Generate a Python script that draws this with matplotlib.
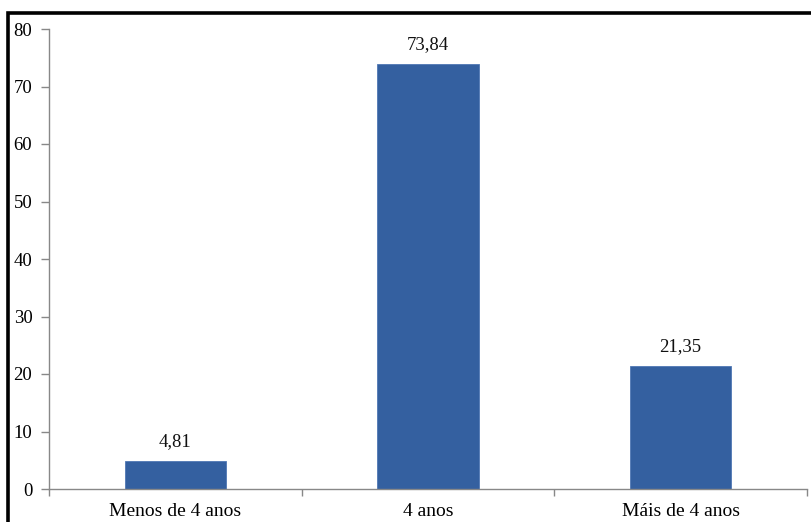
import matplotlib
matplotlib.use("Agg")
import matplotlib.pyplot as plt
from matplotlib.patches import Rectangle

categories = ["Menos de 4 anos", "4 anos", "Máis de 4 anos"]
values = [4.81, 73.84, 21.35]
value_labels = ["4,81", "73,84", "21,35"]
yticks = [0, 10, 20, 30, 40, 50, 60, 70, 80]

plt.rcParams['font.family'] = ['Liberation Serif', 'DejaVu Serif']

fig = plt.figure(figsize=(8.12, 5.22), dpi=100)
ax = fig.add_axes([49/812, 1-489/522, (807-49)/812, (489-29)/522])

x = list(range(len(categories)))
ax.bar(x, values, width=0.4, color="#3460A0", edgecolor="#5078B4", linewidth=0.6, zorder=2)
for xi, v, lab in zip(x, values, value_labels):
    ax.annotate(lab, (xi, v), xytext=(0, 8), textcoords="offset points",
                ha="center", va="bottom", fontsize=13.5, color="#111111")

ax.set_xlim(-0.5, len(categories) - 0.5)
ax.set_ylim(0, 80)
ax.set_yticks(yticks)
ax.set_yticklabels([str(t) for t in yticks], fontsize=13.5)
ax.set_xticks(x)
ax.set_xticklabels(categories, fontsize=14)
ax.tick_params(axis="x", length=0, pad=10)
ax.set_xticks([i - 0.5 for i in range(len(categories) + 1)], minor=True)
ax.tick_params(axis="x", which="minor", length=5, color="#888888", width=1)
ax.tick_params(axis="y", length=6, color="#888888", width=1, pad=6)
for s in ["top", "right"]:
    ax.spines[s].set_visible(False)
for s in ["left", "bottom"]:
    ax.spines[s].set_color("#888888")
    ax.spines[s].set_linewidth(1)

fig.patches.append(Rectangle((8/812, -0.1), 1.0, 1 - 13/522 + 0.1, transform=fig.transFigure,
                             fill=False, edgecolor="black", linewidth=2.6, zorder=10))

fig.savefig("out.png", dpi=100)
